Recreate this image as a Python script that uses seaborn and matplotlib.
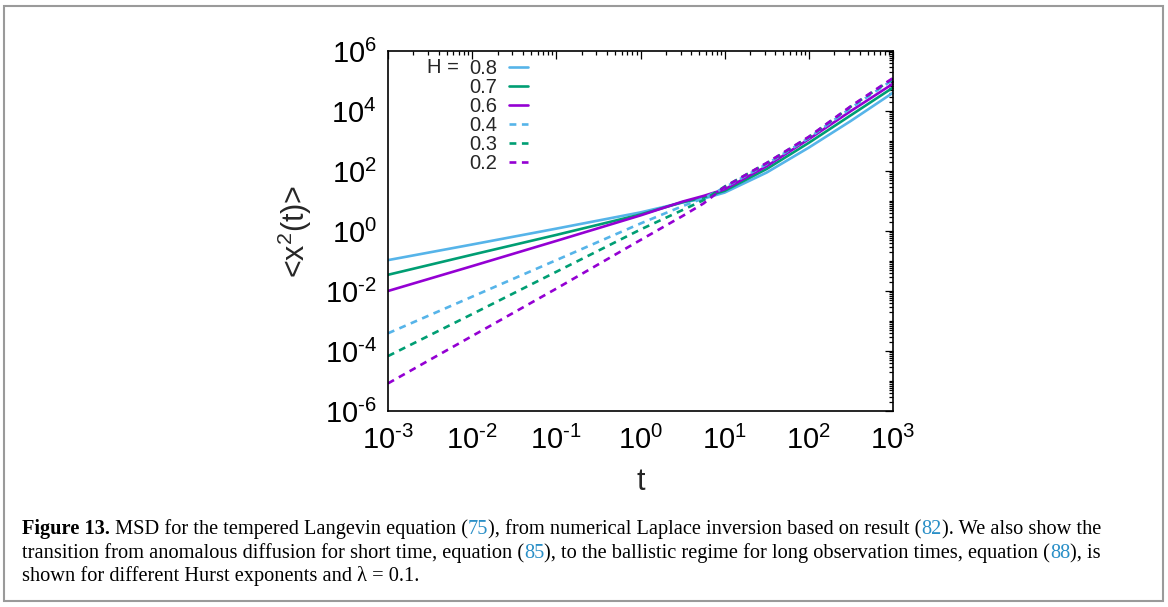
import numpy as np
import pandas as pd
import matplotlib
matplotlib.use("Agg")
import matplotlib.pyplot as plt
from matplotlib.patches import Rectangle
from matplotlib.text import Annotation
from matplotlib.ticker import FixedLocator, LogLocator, NullFormatter, FixedFormatter
import seaborn as sns

# ---- data: mean squared displacement for several Hurst exponents ----
t = [0.001, 0.01, 0.1, 1.0, 3.16, 5.62, 10.0, 31.6, 100.0, 316.0, 1000.0]

msd_h08 = [0.107, 0.355, 1.2, 4.17, 8.9, 12.0, 19.1, 89.0, 603.0, 4.68e3, 4.07e4]
msd_h07 = [0.0347, 0.162, 0.741, 3.55, 9.12, 13.2, 21.9, 117.0, 871.0, 7.24e3, 6.03e4]
msd_h06 = [0.0100, 0.0676, 0.468, 3.31, 9.55, 14.8, 24.5, 145.0, 1.15e3, 1.0e4, 8.13e4]
msd_h04 = [3.89e-4, 6.46e-3, 0.107, 1.78, 6.76, 12.3, 28.2, 170.0, 1.26e3, 1.26e4, 1.10e5]
msd_h03 = [6.76e-5, 1.70e-3, 0.0437, 1.12, 5.01, 10.7, 30.2, 182.0, 1.35e3, 1.41e4, 1.20e5]
msd_h02 = [8.32e-6, 3.16e-4, 0.0120, 0.501, 3.16, 8.32, 29.5, 186.0, 1.38e3, 1.45e4, 1.26e5]

hurst_labels = ["0.8", "0.7", "0.6", "0.4", "0.3", "0.2"]
series = [msd_h08, msd_h07, msd_h06, msd_h04, msd_h03, msd_h02]

x_ticks = [1e-3, 1e-2, 1e-1, 1e0, 1e1, 1e2, 1e3]
x_exponents = ["-3", "-2", "-1", "0", "1", "2", "3"]
y_ticks = [1e-6, 1e-4, 1e-2, 1e0, 1e2, 1e4, 1e6]
y_exponents = ["-6", "-4", "-2", "0", "2", "4", "6"]

colors = ["#56b4e9", "#009e73", "#9400d3", "#56b4e9", "#009e73", "#9400d3"]
solid = [True, True, True, False, False, False]

# ---- style ----
sns.set_style("white")
plt.rcParams["font.family"] = ["Liberation Sans", "DejaVu Sans"]
plt.rcParams["mathtext.fontset"] = "custom"
plt.rcParams["mathtext.rm"] = "Liberation Sans"
plt.rcParams["mathtext.it"] = "Liberation Sans:italic"
plt.rcParams["mathtext.bf"] = "Liberation Sans:bold"
plt.rcParams["axes.unicode_minus"] = False


def power_label(e):
    # plain hyphen in the exponent, as a short dash
    return r"$\mathregular{10^{\text{%s}}}$" % e


W, H = 1168, 607
fig = plt.figure(figsize=(W / 100, H / 100), dpi=100)
fig.patch.set_facecolor("white")

ax = fig.add_axes([388 / W, 1 - 411 / H, (893 - 388) / W, (411 - 51) / H])

df = pd.DataFrame({
    "t": np.tile(t, len(series)),
    "msd": np.concatenate(series),
    "H": np.repeat(hurst_labels, len(t)),
})

for lab, col, sol in zip(hurst_labels, colors, solid):
    sub = df[df["H"] == lab]
    sns.lineplot(data=sub, x="t", y="msd", ax=ax, color=col, lw=1.9,
                 label=lab, estimator=None, sort=False)
    line = ax.lines[-1]
    if not sol:
        line.set_dashes((2.6, 2.1))
        line.set_dash_capstyle("butt")

ax.set_xscale("log")
ax.set_yscale("log")
ax.set_xlim(1e-3, 1e3)
ax.set_ylim(1e-6, 1e6)

ax.xaxis.set_major_locator(FixedLocator(x_ticks))
ax.yaxis.set_major_locator(FixedLocator(y_ticks))
ax.xaxis.set_major_formatter(FixedFormatter([power_label(e) for e in x_exponents]))
ax.yaxis.set_major_formatter(FixedFormatter([power_label(e) for e in y_exponents]))
for axis in (ax.xaxis, ax.yaxis):
    axis.set_minor_locator(LogLocator(base=10, subs=np.arange(1, 10), numticks=100))
    axis.set_minor_formatter(NullFormatter())

ax.tick_params(which="both", direction="in", top=True, right=True, width=0.9,
               colors="black", labelsize=21)
ax.tick_params(which="major", length=5.5)
ax.tick_params(which="minor", length=3)
ax.tick_params(axis="x", which="major", pad=11)
ax.tick_params(axis="y", which="major", pad=8)
for sp in ax.spines.values():
    sp.set_visible(True)
    sp.set_linewidth(1.2)
    sp.set_color("black")

ax.set_xlabel("t", fontsize=22, labelpad=8)
ax.set_ylabel(r"<x$^{2}$(t)>", fontsize=22, labelpad=8)

leg = ax.legend(loc="upper left", bbox_to_anchor=(0.160, 0.977), frameon=False,
                markerfirst=False, fontsize=14.5, handlelength=0.95,
                handletextpad=0.6, labelspacing=0.0, borderpad=0, borderaxespad=0)
for lh in leg.get_lines():
    lh.set_linewidth(1.9)
ax.text(0.078, 0.955, "H =", transform=ax.transAxes, fontsize=14.5, va="center", ha="left")

# ---- frame and caption ----
fig.add_artist(Rectangle((4 / W, 1 - 601 / H), (1163 - 4) / W, (601 - 6) / H,
                         transform=fig.transFigure, fill=False, ec="#9a9a9a", lw=1.5))

cap_font = dict(family="Liberation Serif", fontsize=14.7)
blue = "#2a8fc7"
caption_lines = [
    [("Figure 13.", "black", "bold"),
     (" MSD for the tempered Langevin equation (", "black", "normal"),
     ("75", blue, "normal"),
     ("), from numerical Laplace inversion based on result (", "black", "normal"),
     ("82", blue, "normal"),
     ("). We also show the", "black", "normal")],
    [("transition from anomalous diffusion for short time, equation (", "black", "normal"),
     ("85", blue, "normal"),
     ("), to the ballistic regime for long observation times, equation (", "black", "normal"),
     ("88", blue, "normal"),
     ("), is", "black", "normal")],
    [("shown for different Hurst exponents and \u03bb = 0.1.", "black", "normal")],
]
line_bottoms = [539, 563, 586]

# each segment starts where the previous one on the same line ends
for segs, yb in zip(caption_lines, line_bottoms):
    prev = None
    for txt, col, wt in segs:
        if prev is None:
            prev = fig.text(22 / W, 1 - yb / H, txt, color=col, fontweight=wt,
                            ha="left", va="bottom", **cap_font)
        else:
            prev = fig.add_artist(Annotation(
                txt, xy=(1, 0), xycoords=prev, ha="left", va="bottom",
                color=col, fontweight=wt, **cap_font))

fig.savefig("out.png", dpi=100, facecolor="white")
